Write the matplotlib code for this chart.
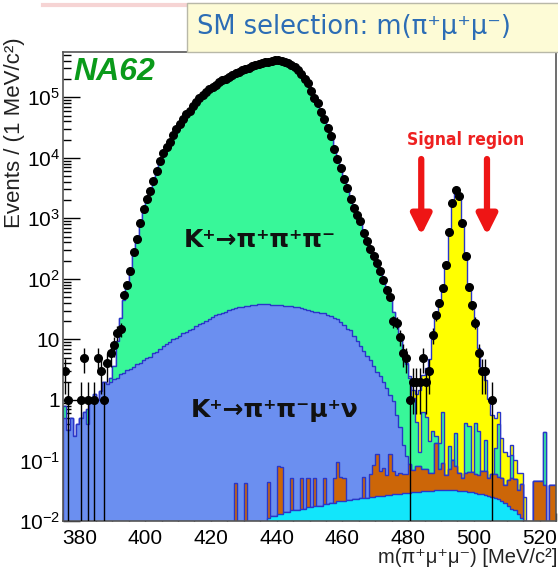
import matplotlib

matplotlib.use("Agg")
import matplotlib.pyplot as plt
import numpy as np
from matplotlib.patches import Rectangle
from matplotlib.ticker import FixedLocator, FixedFormatter, LogLocator, MultipleLocator, NullFormatter

plt.rcParams["font.family"] = ["Liberation Sans", "DejaVu Sans"]
plt.rcParams["mathtext.fontset"] = "custom"
plt.rcParams["mathtext.rm"] = "Liberation Sans"
plt.rcParams["mathtext.default"] = "rm"

# --- data: 1 MeV bins from 375 to 525 MeV/c^2 ---
bin_lo, bin_hi = 375, 525

data_counts = [
    3, 1, 0, 0, 0, 1, 5, 1, 0, 1,  # 375
    5, 3, 1, 4, 6, 8, 13, 15, 55, 78,  # 385
    135, 282, 457, 832, 1410, 2090, 2820, 4170, 6030, 8910,  # 395
    12000, 15100, 18600, 24000, 30200, 36300, 43600, 52500, 60300, 72400,  # 405
    85100, 97700, 110000, 123000, 135000, 148000, 162000, 178000, 191000, 204000,  # 415
    219000, 234000, 251000, 263000, 282000, 295000, 309000, 324000, 339000, 355000,  # 425
    372000, 380000, 389000, 398000, 407000, 407000, 398000, 389000, 372000, 347000,  # 435
    316000, 282000, 240000, 204000, 170000, 126000, 95500, 79400, 57500, 43600,  # 445
    31600, 22900, 14100, 9550, 6760, 4470, 3160, 2090, 1510, 1150,  # 455
    891, 562, 417, 316, 240, 186, 135, 95, 66, 50,  # 465
    20, 19, 11, 6, 5, 1, 2, 2, 2, 5,  # 475
    2, 3, 12, 25, 40, 72, 170, 600, 1800, 2950,  # 485
    2300, 850, 240, 74, 37, 19, 6, 3, 3, 0,  # 495
    1, 0, 0, 0, 0, 0, 0, 0, 0, 0,  # 505
    0, 0, 0, 0, 0, 0, 0, 0, 0, 0,  # 515
]

# K+ -> pi+ pi+ pi-
k3pi = [
    0.3, 0, 0, 0, 0, 0, 0, 0.3, 0, 0,
    0, 0, 0, 0, 0.3, 1.5, 7, 20, 42, 72,
    130, 275, 450, 820, 1400, 2080, 2810, 4150, 6000, 8900,
    11900, 15000, 18600, 23800, 30000, 36200, 43500, 52300, 60500, 72000,
    84500, 97500, 110000, 123000, 135000, 148000, 162000, 177000, 190000, 204000,
    219000, 234000, 250000, 264000, 280000, 295000, 310000, 324000, 338000, 354000,
    368000, 380000, 390000, 398000, 404000, 405000, 399000, 388000, 372000, 348000,
    316000, 280000, 242000, 203000, 168000, 128000, 97000, 78000, 58000, 43000,
    31500, 22500, 14500, 9600, 6700, 4500, 3150, 2100, 1500, 1140,
    880, 560, 415, 310, 238, 183, 133, 93, 64, 47,
    27, 17, 10, 5.5, 3.8, 2.2, 1.0, 0.35, 0.06, 0.55,
    0.45, 0.15, 0.25, 0.06, 0.12, 0.55, 0, 0.1, 0, 0.2,
    0, 0, 0.35, 0.3, 0, 0.35, 0.25, 0, 0.15, 0,
    0, 0.1, 0.35, 0, 0, 0, 0.07, 0, 0, 0,
    0, 0, 0, 0, 0, 0, 0.25, 0, 0, 0,
]

# K+ -> pi+ pi- mu+ nu
kpipimunu = [
    0.5, 0.32, 0.5, 0.25, 0.4, 0.5, 0.63, 0.4, 1.0, 1.26,
    1.0, 1.4, 2.0, 1.8, 2.0, 2.2, 2.3, 2.7, 2.8, 3.1,
    3.2, 3.5, 3.9, 4.0, 4.5, 5.0, 5.2, 6.0, 6.3, 7.0,
    7.9, 8.3, 8.9, 10.0, 10.7, 11.2, 12.6, 13.2, 14.1, 15.1,
    16.6, 17.8, 19.0, 20.0, 21.4, 23.4, 25.1, 26.3, 27.5, 28.8,
    30.2, 31.6, 32.4, 33.9, 34.7, 35.5, 36.3, 37.2, 37.2, 38.0,
    38.0, 38.0, 38.0, 37.2, 37.2, 37.2, 36.3, 36.3, 35.5, 35.5,
    34.7, 33.9, 33.1, 31.6, 30.9, 29.5, 28.8, 28.2, 27.5, 26.9,
    25.7, 24.5, 22.9, 21.4, 19.1, 17.4, 15.1, 14.1, 11.2, 9.5,
    7.9, 6.3, 5.2, 4.5, 3.5, 2.8, 2.4, 1.9, 1.5, 1.1,
    0.9, 0.5, 0.3, 0.12, 0.06, 0, 0, 0, 0, 0,
] + [0] * 40

# orange background
bkg_orange = [0] * 52 + [
    0.043, 0, 0, 0.043, 0, 0, 0, 0, 0, 0,  # 427
    0.033, 0, 0, 0.067, 0.066, 0, 0, 0.037, 0, 0,  # 437
    0.035, 0, 0.035, 0, 0.033, 0, 0, 0.032, 0, 0,  # 447
    0.032, 0.072, 0.032, 0.03, 0, 0, 0, 0, 0, 0.03,  # 457
    0, 0.035, 0.06, 0.1, 0.04, 0.05, 0.03, 0.1, 0.04, 0.03,  # 467
    0.035, 0.03, 0.03, 0.06, 0.04, 0.05, 0.05, 0.04, 0.04, 0.03,  # 477
    0.03, 0.16, 0.04, 0.06, 0.025, 0.04, 0.07, 0.05, 0.03, 0.02,  # 487
    0.03, 0.035, 0.035, 0.03, 0.03, 0.04, 0.04, 0.025, 0.035, 0.035,  # 497
    0.03, 0.03, 0.02, 0.03, 0.035, 0.035, 0.02, 0.03, 0, 0,  # 507
    0, 0.045, 0.045, 0.045, 0.04, 0, 0.04, 0.04,  # 517
]

# cyan background
bkg_cyan = [0] * 62 + [
    0.011, 0.012, 0.012, 0.013, 0.013, 0.014, 0.014, 0.015, 0.015, 0.015,  # 437
    0.016, 0.016, 0.017, 0.017, 0.018, 0.018, 0.018, 0.019, 0.019, 0.020,  # 447
    0.020, 0.021, 0.021, 0.021, 0.022, 0.022, 0.023, 0.023, 0.024, 0.024,  # 457
    0.024, 0.025, 0.025, 0.026, 0.026, 0.026, 0.027, 0.027, 0.028, 0.028,  # 467
    0.028, 0.029, 0.029, 0.029, 0.030, 0.030, 0.030, 0.031, 0.031, 0.031,  # 477
    0.031, 0.032, 0.032, 0.032, 0.032, 0.032, 0.032, 0.032, 0.031, 0.031,  # 487
    0.031, 0.030, 0.030, 0.029, 0.028, 0.028, 0.027, 0.026, 0.025, 0.024,  # 497
    0.023, 0.021, 0.020, 0.018, 0.016, 0.015, 0.013, 0.011, 0.010,  # 507
] + [0] * 9

# K+ -> pi+ mu+ mu- signal
kpimumu = [0] * 103 + [
    0.05, 0.1, 0.2, 0.4, 0.8, 1.3, 2.0, 2.8, 4.5, 10,  # 478
    22, 42, 75, 170, 600, 1700, 2600, 2500, 900, 260,  # 488
    78, 38, 19, 7, 3.2, 1.9, 1.0, 0.5, 0.35, 0.22,  # 498
    0.18, 0.1, 0.07, 0.06, 0.05, 0.03, 0.02, 0.015,  # 508
] + [0] * 9

edges = np.arange(bin_lo, bin_hi + 1)
centers = edges[:-1] + 0.5

# stacking order bottom -> top
components = [bkg_cyan, bkg_orange, kpipimunu, k3pi, kpimumu]
fill_colors = ["#12e6fb", "#cc6608", "#6b8ff0", "#38f799", "#ffff00"]
line_color = "#2a36c8"

fig = plt.figure(figsize=(5.58, 5.72), dpi=100)
ax = fig.add_axes([63 / 558, 51 / 572, 493 / 558, 469 / 572])
ax.set_yscale("log")

cum = np.cumsum(np.array(components, dtype=float), axis=0)
floor = 1e-4
for k in reversed(range(len(components))):
    vals = np.maximum(cum[k], floor)
    ax.stairs(vals, edges, baseline=floor, fill=True, color=fill_colors[k], zorder=2)
    ax.stairs(vals, edges, baseline=floor, fill=False, color=line_color, lw=1.0, zorder=2)

# data points
counts = np.array(data_counts, dtype=float)
sel = counts > 0
n = counts[sel]
err = np.sqrt(n)
err_lo = np.minimum(err, n * 0.99999)
ax.errorbar(centers[sel], n, yerr=[err_lo, err], xerr=0.5, fmt="o", color="black",
            ms=5.5, elinewidth=1.0, capsize=0, zorder=5)

ax.set_xlim(bin_lo, bin_hi)
ax.set_ylim(1e-2, 5.6e5)

ax.xaxis.set_major_locator(MultipleLocator(20))
ax.xaxis.set_minor_locator(MultipleLocator(5))
major_y = [1e-2, 1e-1, 1, 10, 1e2, 1e3, 1e4, 1e5]
ax.yaxis.set_major_locator(FixedLocator(major_y))
ax.yaxis.set_major_formatter(FixedFormatter(
    [r"$10^{-2}$", r"$10^{-1}$", "1", "10", r"$10^{2}$", r"$10^{3}$", r"$10^{4}$", r"$10^{5}$"]))
ax.yaxis.set_minor_locator(LogLocator(base=10, subs=np.arange(2, 10), numticks=20))
ax.yaxis.set_minor_formatter(NullFormatter())
ax.tick_params(which="both", direction="in", top=False, right=False, width=1, labelsize=15)
ax.tick_params(which="major", length=12)
ax.tick_params(which="minor", length=6)
ax.tick_params(axis="x", pad=6)
ax.tick_params(axis="y", pad=2)
for sp in ax.spines.values():
    sp.set_color("#555555")
    sp.set_linewidth(1.2)

# labels
fig.text(15 / 558, 1 - 37 / 572, "Events / (1 MeV/c²)", rotation=90, ha="center", va="top",
         fontsize=16, color="#222222")
fig.text(0.998, 1 - 548 / 572, "m(π⁺μ⁺μ⁻) [MeV/c²]", ha="right", va="top",
         fontsize=14.5, color="#222222")

ax.text(0.022, 0.99, "NA62", transform=ax.transAxes, ha="left", va="top",
        fontsize=23, fontweight="bold", fontstyle="italic", color="#0a9a1a", zorder=6)
ax.text(435, 10 ** 2.64, "K⁺→π⁺π⁺π⁻", ha="center", va="center", fontsize=18,
        fontweight="bold", family=["DejaVu Sans"], color="#111111", zorder=6)
ax.text(439.5, 10 ** -0.17, "K⁺→π⁺π⁻μ⁺ν", ha="center", va="center", fontsize=18,
        fontweight="bold", family=["DejaVu Sans"], color="#111111", zorder=6)

# signal region
ax.text(497.5, 10 ** 4.3, "Signal region", ha="center", va="center", fontsize=12.5,
        fontweight="bold", fontstretch="condensed", family=["DejaVu Sans"],
        color="#ee2020", zorder=6)
for xs in (484, 504):
    ax.annotate("", xy=(xs, 10 ** 2.72), xytext=(xs, 10 ** 3.98),
                arrowprops=dict(arrowstyle="-|>", lw=4.5, color="#ee1515",
                                mutation_scale=30, shrinkA=0, shrinkB=0), zorder=6)

# slide header box
fig.add_artist(Rectangle((187 / 558, 1 - 52 / 572), 1.0, 49 / 572, transform=fig.transFigure,
                         facecolor="#fdfbd6", edgecolor="#b8b8a8", lw=1.0, zorder=10))
fig.text(197 / 558, 1 - 27 / 572, "SM selection: m(π⁺μ⁺μ⁻)", ha="left", va="center",
         fontsize=18.5, family=["DejaVu Sans"], color="#2c6db5", zorder=11)
fig.add_artist(plt.Line2D([43 / 558, 1.0], [1 - 5 / 572, 1 - 5 / 572], transform=fig.transFigure,
                          color="#f6d4d4", lw=3, zorder=9))

fig.savefig("out.png", dpi=100)
